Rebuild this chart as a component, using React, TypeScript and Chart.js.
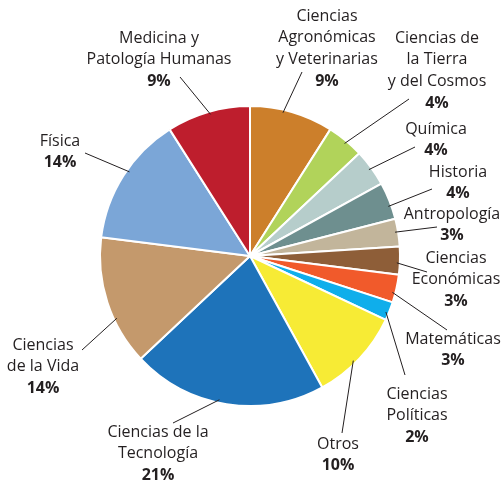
import React, { useEffect, useRef } from "react";
import { Chart, registerables } from "chart.js";

Chart.register(...registerables);

const categories = [
  "Ciencias Agronómicas y Veterinarias",
  "Ciencias de la Tierra y del Cosmos",
  "Química",
  "Historia",
  "Antropología",
  "Ciencias Económicas",
  "Matemáticas",
  "Ciencias Políticas",
  "Otros",
  "Ciencias de la Tecnología",
  "Ciencias de la Vida",
  "Física",
  "Medicina y Patología Humanas",
];

const shares = [9, 4, 4, 4, 3, 3, 3, 2, 10, 21, 14, 14, 9];

const labelLines = [
  ["Ciencias", "Agronómicas", "y Veterinarias"],
  ["Ciencias de", "la Tierra", "y del Cosmos"],
  ["Química"],
  ["Historia"],
  ["Antropología"],
  ["Ciencias", "Económicas"],
  ["Matemáticas"],
  ["Ciencias", "Políticas"],
  ["Otros"],
  ["Ciencias de la", "Tecnología"],
  ["Ciencias", "de la Vida"],
  ["Física"],
  ["Medicina y", "Patología Humanas"],
];

const colors = [
  "#CC7F2B",
  "#B1D35A",
  "#B6CDCB",
  "#6E8F8F",
  "#C2B59B",
  "#8E5E38",
  "#F15A2B",
  "#0FAEEB",
  "#F7EB35",
  "#1E73BA",
  "#C4996C",
  "#7BA6D7",
  "#BE1E2D",
];

// label layout: centre x, first line centre y, leader outer end, anchor fraction along arc
const labelLayout = [
  { x: 327, y: 15, ex: 302, ey: 72, f: 0.4 },
  { x: 437, y: 37, ex: 409, ey: 99, f: 0.53 },
  { x: 436, y: 128, ex: 415, ey: 147, f: 0.5 },
  { x: 458, y: 171, ex: 432, ey: 189, f: 0.63 },
  { x: 452, y: 213, ex: 437, ey: 227, f: 0.47 },
  { x: 456, y: 257, ex: 427, ey: 272, f: 0.58 },
  { x: 453, y: 338, ex: 447, ey: 330, f: 0.66 },
  { x: 417, y: 393, ex: 405, ey: 375, f: 0.61 },
  { x: 338, y: 443, ex: 342, ey: 433, f: 0.56 },
  { x: 158, y: 431, ex: 173, ey: 423, f: 0.54 },
  { x: 43, y: 344, ex: 82, ey: 350, f: 0.36 },
  { x: 60, y: 140, ex: 85, ey: 153, f: 0.55 },
  { x: 159, y: 37, ex: 180, ey: 77, f: 0.52 },
];

const FONT = "'Open Sans', sans-serif";
const FS = 16;
const LH = 21.7;

const labelPlugin = {
  id: "leaderLabels",
  afterDatasetsDraw(chart: any) {
    const ctx = chart.ctx;
    const meta = chart.getDatasetMeta(0);
    ctx.save();
    meta.data.forEach((arc: any, i: number) => {
      const L = labelLayout[i];
      const a = arc.startAngle + (arc.endAngle - arc.startAngle) * L.f;
      const r = arc.outerRadius * 0.98;
      const ix = arc.x + Math.cos(a) * r;
      const iy = arc.y + Math.sin(a) * r;
      ctx.beginPath();
      ctx.strokeStyle = "#231F20";
      ctx.lineWidth = 1;
      ctx.moveTo(ix, iy);
      ctx.lineTo(L.ex, L.ey);
      ctx.stroke();

      ctx.fillStyle = "#231F20";
      ctx.textAlign = "center";
      ctx.textBaseline = "alphabetic";
      const lines = labelLines[i];
      lines.forEach((t, k) => {
        ctx.font = `400 ${FS}px ${FONT}`;
        ctx.fillText(t, L.x, L.y + k * LH + FS * 0.36);
      });
      ctx.font = `700 ${FS}px ${FONT}`;
      ctx.fillText(
        `${shares[i]}%`,
        L.x,
        L.y + lines.length * LH + FS * 0.36
      );
    });
    ctx.restore();
  },
};

export default function App() {
  const ref = useRef<HTMLCanvasElement | null>(null);
  useEffect(() => {
    if (!ref.current) return;
    const chart = new Chart(ref.current, {
      type: "pie",
      data: {
        labels: categories,
        datasets: [
          {
            data: shares,
            backgroundColor: colors,
            borderColor: "#ffffff",
            borderWidth: 2,
          },
        ],
      },
      options: {
        responsive: false,
        animation: false,
        layout: { padding: { left: 99, right: 103, top: 105, bottom: 73 } },
        plugins: {
          legend: { display: false },
          tooltip: { enabled: false },
          title: { display: false },
        },
      },
      plugins: [labelPlugin],
    });
    return () => chart.destroy();
  }, []);
  return (
    <div style={{ position: "absolute", left: 0, top: 0, width: 504, height: 480, background: "#fff" }}>
      <canvas ref={ref} width={504} height={480} style={{ display: "block" }} />
    </div>
  );
}
